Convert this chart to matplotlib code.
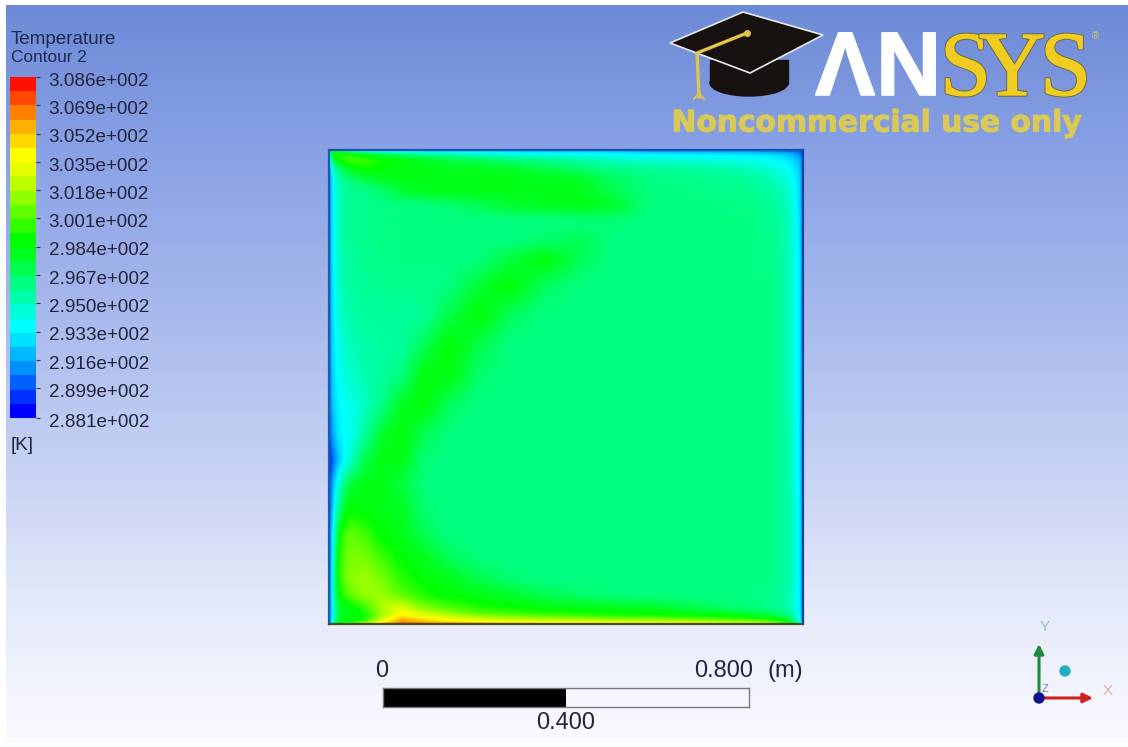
import numpy as np
import matplotlib
matplotlib.use('Agg')
import matplotlib.pyplot as plt
import matplotlib.patheffects as pe
from matplotlib.colors import LinearSegmentedColormap, ListedColormap
from matplotlib.patches import Polygon, Ellipse, Rectangle
from matplotlib.transforms import ScaledTranslation

plt.rcParams['font.family'] = ['Liberation Sans', 'DejaVu Sans']

# legend
tick_values = [308.6, 306.9, 305.2, 303.5, 301.8, 300.1, 298.4, 296.7, 295.0, 293.3, 291.6, 289.9, 288.1]
tick_labels = ['3.086e+002', '3.069e+002', '3.052e+002', '3.035e+002', '3.018e+002', '3.001e+002', '2.984e+002',
               '2.967e+002', '2.950e+002', '2.933e+002', '2.916e+002', '2.899e+002', '2.881e+002']
band_edges = [288.1, 288.95, 289.81, 290.66, 291.52, 292.37, 293.22, 294.08, 294.93, 295.79, 296.64, 297.49,
              298.35, 299.2, 300.06, 300.91, 301.77, 302.62, 303.47, 304.33, 305.18, 306.04, 306.89, 307.75, 308.6]
band_colors = ['#0000FF', '#0030FF', '#0060FF', '#0090FF', '#00B8FF', '#00E0FF', '#00FFFF', '#00FFD8',
               '#00FFA8', '#00FF80', '#00FF50', '#00FF20', '#00FF00', '#30FF00', '#60FF00', '#90FF00',
               '#C0FF00', '#E8FF00', '#FFFF00', '#FFD800', '#FFB000', '#FF8000', '#FF4800', '#FF1000']

# temperature, rows go from the top wall down
x_nodes = [0, .008, .021, .042, .074, .110, .152, .200, .253, .316, .380, .454, .527, .601, .675, .749, .823,
           .886, .928, .960, .977, .992, 1]
y_nodes = [0, .008, .021, .038, .059, .084, .116, .148, .190, .232, .285, .348, .411, .475, .538, .601, .654,
           .707, .759, .812, .865, .907, .939, .966, .983, .994, 1]
temp = [
    [297.0, 297.5, 296.0, 294.0, 293.0, 292.5, 292.5, 292.0, 292.0, 292.0, 292.0, 292.0, 292.0, 292.0, 291.0, 291.0, 291.0, 291.0, 290.5, 290.5, 290.0, 290.0, 289.5],
    [295.0, 298.5, 299.5, 299.5, 298.5, 297.5, 296.8, 296.0, 295.5, 295.0, 294.5, 294.2, 294.0, 293.8, 293.6, 293.4, 293.2, 293.0, 292.8, 292.4, 292.0, 291.0, 290.0],
    [293.0, 297.0, 299.0, 300.0, 300.0, 299.0, 298.5, 298.0, 297.5, 297.0, 296.5, 296.0, 295.6, 295.0, 294.6, 294.5, 294.4, 294.2, 293.8, 293.2, 292.8, 292.0, 290.0],
    [291.5, 295.0, 296.5, 298.0, 299.0, 298.6, 298.4, 298.2, 298.0, 298.0, 297.8, 297.2, 296.6, 296.0, 295.8, 295.6, 295.4, 295.0, 294.6, 294.0, 293.4, 292.3, 290.0],
    [291.0, 294.0, 295.5, 296.4, 297.4, 298.0, 298.2, 298.2, 298.2, 298.2, 298.2, 298.1, 297.8, 296.8, 296.2, 296.0, 295.9, 295.6, 295.2, 294.6, 293.8, 292.6, 290.0],
    [291.0, 293.8, 295.2, 295.8, 296.0, 296.6, 297.6, 298.2, 298.2, 298.2, 298.2, 298.2, 298.2, 297.0, 296.2, 296.2, 296.0, 295.9, 295.5, 295.0, 294.2, 292.8, 290.0],
    [291.0, 293.6, 295.2, 295.8, 296.0, 296.1, 296.2, 296.2, 296.5, 297.0, 297.6, 298.0, 298.2, 297.8, 296.3, 296.2, 296.2, 296.1, 295.8, 295.2, 294.4, 292.8, 290.0],
    [291.0, 293.6, 295.2, 295.8, 296.0, 296.2, 296.2, 296.2, 296.2, 296.2, 296.2, 296.2, 296.3, 296.4, 296.2, 296.2, 296.2, 296.2, 295.9, 295.4, 294.5, 293.0, 290.0],
    [291.0, 293.6, 295.2, 295.8, 296.0, 296.1, 296.2, 296.2, 296.2, 296.2, 296.2, 296.6, 297.0, 296.2, 296.2, 296.2, 296.2, 296.2, 296.0, 295.4, 294.5, 293.0, 290.0],
    [291.0, 293.6, 295.0, 295.6, 295.9, 296.0, 296.2, 296.2, 296.2, 296.3, 297.4, 298.6, 296.9, 296.2, 296.2, 296.2, 296.2, 296.2, 296.0, 295.5, 294.6, 293.2, 290.0],
    [291.0, 293.4, 295.0, 295.5, 295.8, 295.9, 296.0, 296.0, 296.2, 297.6, 298.6, 296.8, 296.2, 296.2, 296.2, 296.2, 296.2, 296.2, 296.2, 295.5, 294.6, 293.2, 290.0],
    [290.8, 293.2, 294.8, 295.3, 295.6, 295.7, 295.6, 295.8, 297.2, 298.6, 296.9, 296.2, 296.2, 296.2, 296.2, 296.2, 296.2, 296.2, 296.2, 295.5, 294.6, 293.2, 290.0],
    [290.8, 293.0, 294.4, 295.0, 295.4, 295.5, 295.6, 297.0, 298.6, 297.2, 296.2, 296.2, 296.2, 296.2, 296.2, 296.2, 296.2, 296.2, 296.2, 295.5, 294.6, 293.2, 290.0],
    [290.6, 292.8, 294.0, 294.7, 295.2, 295.6, 296.3, 298.4, 298.4, 296.5, 296.2, 296.2, 296.2, 296.2, 296.2, 296.2, 296.2, 296.2, 296.2, 295.5, 294.6, 293.2, 290.0],
    [290.4, 292.5, 293.6, 294.0, 294.8, 296.0, 298.0, 298.5, 296.8, 296.2, 296.2, 296.2, 296.2, 296.2, 296.2, 296.2, 296.2, 296.2, 296.2, 295.5, 294.6, 293.2, 290.0],
    [290.0, 291.8, 293.4, 293.8, 295.6, 297.8, 298.5, 297.0, 296.2, 296.2, 296.2, 296.2, 296.2, 296.2, 296.2, 296.2, 296.2, 296.2, 296.2, 295.6, 294.8, 293.2, 290.0],
    [289.0, 290.5, 292.5, 294.5, 297.2, 298.2, 298.2, 296.4, 296.2, 296.2, 296.2, 296.2, 296.2, 296.2, 296.2, 296.2, 296.2, 296.2, 296.2, 295.6, 294.8, 293.2, 290.0],
    [290.0, 292.0, 295.0, 297.6, 298.2, 298.2, 297.4, 296.2, 296.2, 296.2, 296.2, 296.2, 296.2, 296.2, 296.2, 296.2, 296.2, 296.2, 296.2, 295.6, 294.8, 293.2, 290.0],
    [290.0, 293.0, 296.5, 298.8, 298.4, 298.2, 298.0, 296.5, 296.2, 296.2, 296.2, 296.2, 296.2, 296.2, 296.2, 296.2, 296.2, 296.2, 296.2, 295.6, 295.0, 293.4, 290.0],
    [290.5, 294.0, 299.0, 300.6, 300.0, 298.6, 298.2, 297.0, 296.2, 296.2, 296.2, 296.2, 296.2, 296.2, 296.2, 296.2, 296.2, 296.2, 296.2, 295.6, 295.0, 293.4, 290.0],
    [290.5, 294.5, 299.8, 301.0, 301.0, 300.0, 298.6, 298.2, 297.0, 296.3, 296.2, 296.2, 296.2, 296.2, 296.2, 296.2, 296.2, 296.2, 296.2, 295.6, 295.0, 293.4, 290.0],
    [290.5, 295.0, 299.8, 301.2, 301.6, 301.0, 299.5, 298.6, 298.2, 297.2, 296.5, 296.2, 296.2, 296.2, 296.2, 296.2, 296.2, 296.2, 296.2, 295.6, 295.0, 293.4, 290.0],
    [290.5, 295.0, 298.8, 300.5, 301.5, 301.5, 300.4, 299.2, 298.6, 298.2, 297.8, 297.0, 296.6, 296.3, 296.2, 296.2, 296.2, 296.2, 296.0, 295.5, 294.8, 293.4, 290.0],
    [290.5, 294.5, 298.0, 298.2, 299.8, 302.0, 302.8, 301.0, 300.0, 299.2, 298.8, 298.4, 298.2, 298.0, 297.8, 297.2, 296.6, 296.2, 296.0, 295.5, 294.8, 293.4, 290.0],
    [290.5, 294.5, 298.0, 298.2, 298.8, 301.5, 304.2, 303.0, 302.0, 301.0, 300.4, 300.0, 299.6, 299.2, 299.0, 298.8, 298.4, 298.0, 297.4, 296.5, 295.5, 293.6, 290.0],
    [291.0, 294.5, 298.0, 298.4, 299.5, 303.0, 306.0, 305.0, 304.0, 303.4, 303.0, 302.6, 302.4, 302.0, 301.8, 301.5, 301.0, 300.5, 300.0, 298.5, 297.0, 294.0, 290.0],
    [291.0, 295.0, 299.0, 300.0, 302.0, 305.0, 307.0, 306.5, 306.0, 305.5, 305.0, 305.0, 304.5, 304.5, 304.0, 304.0, 303.5, 303.0, 302.0, 300.0, 298.0, 295.0, 291.0],
]

# scale bar
scale_ticks = [0, 0.4, 0.8]
scale_labels = ['0', '0.400', '0.800']

# background
bg_y = [5, 150, 300, 450, 600, 742]
bg_rgb = [[108, 138, 214], [137, 161, 229], [165, 183, 236], [195, 207, 243], [228, 233, 250], [251, 251, 255]]

text_color = '#24243c'


def px_axes(fig, left, top, right, bottom):
    return fig.add_axes([left / 1128, (747 - bottom) / 747, (right - left) / 1128, (bottom - top) / 747])


def soften(field, sigma=2.5):
    """Put the nodes on a fine grid and smooth them, the walls stay sharp"""
    fine = np.linspace(0, 1, 474)
    t = np.array(field)
    t = np.array([np.interp(fine, x_nodes, row) for row in t])
    t = np.array([np.interp(fine, y_nodes, col) for col in t.T]).T
    r = int(3 * sigma)
    kernel = np.exp(-0.5 * (np.arange(-r, r + 1) / sigma) ** 2)
    kernel /= kernel.sum()
    p = np.pad(t, r, mode='edge')
    p = np.apply_along_axis(lambda v: np.convolve(v, kernel, mode='same'), 0, p)
    p = np.apply_along_axis(lambda v: np.convolve(v, kernel, mode='same'), 1, p)
    p = p[r:-r, r:-r]
    d = np.minimum(fine, 1 - fine) * 474
    w = np.clip(np.minimum(d[:, None], d[None, :]) / 14, 0, 1)
    return (1 - w) * t + w * p


fig = plt.figure(figsize=(11.28, 7.47), dpi=100, facecolor='white')

# whole figure in pixels, for gradient, logo and triad
ax = fig.add_axes([0, 0, 1, 1])
rows = np.arange(5, 743)
grad = np.stack([np.interp(rows, bg_y, [c[i] for c in bg_rgb]) for i in range(3)], axis=1) / 255
ax.imshow(grad[:, None, :], extent=[6, 1128, 743, 5], aspect='auto', interpolation='bilinear')
ax.set_xlim(0, 1128)
ax.set_ylim(747, 0)
ax.axis('off')

# contour field
smooth_cmap = LinearSegmentedColormap.from_list('bands', band_colors, N=256)
ax_f = px_axes(fig, 329, 150, 803, 624)
ax_f.imshow(soften(temp), extent=[0, 1, 1, 0], aspect='auto', cmap=smooth_cmap, vmin=288.5, vmax=308.2,
            interpolation='bilinear')
ax_f.set_xticks([])
ax_f.set_yticks([])
ax_f.spines['left'].set_color('#1c5cb0')
ax_f.spines['top'].set_color('#1a4fb0')
ax_f.spines['right'].set_color('#1a3f98')
ax_f.spines['bottom'].set_color('#4a4a20')
for s in ax_f.spines.values():
    s.set_linewidth(1.6)

# legend bar
ax_c = px_axes(fig, 10, 77, 36, 418)
ax_c.pcolormesh([0, 1], band_edges, np.arange(24)[:, None], cmap=ListedColormap(band_colors))
ax_c.set_ylim(288.1, 308.6)
ax_c.set_xticks([])
ax_c.yaxis.tick_right()
ax_c.set_yticks(tick_values)
ax_c.set_yticklabels(tick_labels, fontsize=13.6, color=text_color)
ax_c.tick_params(axis='y', length=3, width=0.8, color='#30304a', pad=6.0)
shift = ScaledTranslation(0, -1.6 / 72, fig.dpi_scale_trans)
for lab in ax_c.get_yticklabels():
    lab.set_transform(lab.get_transform() + shift)
for s in ax_c.spines.values():
    s.set_visible(False)

ax.text(11, 39, 'Temperature', fontsize=13.6, color='#1e2a50', va='center')
ax.text(11, 57, 'Contour 2', fontsize=12.4, color='#1e2a50', va='center')
ax.text(11, 445, '[K]', fontsize=13.5, color=text_color, va='center')

# scale bar
ax_s = px_axes(fig, 383, 688, 749, 707)
ax_s.barh(0, scale_ticks[1], height=1, color='black')
ax_s.barh(0, scale_ticks[2] - scale_ticks[1], left=scale_ticks[1], height=1, color='#f4f5fd')
ax_s.set_xlim(0, 0.8)
ax_s.set_ylim(-0.5, 0.5)
ax_s.set_xticks([])
ax_s.set_yticks([])
for s in ax_s.spines.values():
    s.set_color('#777780')
    s.set_linewidth(1)
ax.text(382, 671, scale_labels[0], fontsize=17, color=text_color, ha='center', va='center')
ax.text(724, 671, scale_labels[2], fontsize=17, color=text_color, ha='center', va='center')
ax.text(785, 671, '(m)', fontsize=17, color=text_color, ha='center', va='center')
ax.text(566, 723, scale_labels[1], fontsize=17, color=text_color, ha='center', va='center')

# triad
ax.annotate('', xy=(1039, 644), xytext=(1039, 698),
            arrowprops=dict(arrowstyle='-|>', color='#1f8a3c', lw=2.2, mutation_scale=14, shrinkA=0, shrinkB=0))
ax.annotate('', xy=(1093, 698), xytext=(1039, 698),
            arrowprops=dict(arrowstyle='-|>', color='#d02020', lw=2.2, mutation_scale=14, shrinkA=0, shrinkB=0))
ax.add_patch(Ellipse((1039, 698), 10, 10, color='#10108a', zorder=5))
ax.add_patch(Ellipse((1065, 671), 10, 10, color='#22b0c0', zorder=5))
ax.text(1045, 627, 'Y', fontsize=11, color='#8fc8a8', ha='center', va='center')
ax.text(1108, 691, 'X', fontsize=11, color='#e0a8a8', ha='center', va='center')
ax.text(1045, 689, 'Z', fontsize=8, color='#7878c0', ha='center', va='center')

# logo
ax.add_patch(Ellipse((749, 83), 78, 26, color='#17120f', zorder=3))
ax.add_patch(Rectangle((710, 60), 78, 24, color='#17120f', zorder=3))
ax.add_patch(Polygon([(670, 43), (743, 12), (823, 35), (750, 73)], closed=True, facecolor='#17120f',
                     edgecolor='#e8e8f0', lw=1.2, zorder=4))
ax.plot([747, 697, 699], [33, 53, 97], color='#e2c64a', lw=2.4, zorder=5)
ax.plot([694, 699, 704], [99, 93, 99], color='#e2c64a', lw=1.4, zorder=5)
ax.plot([747], [33], 'o', color='#e2c64a', ms=4, zorder=5)

white_edge = [pe.withStroke(linewidth=1.2, foreground='white')]
ax.text(815, 95, '\u039b', fontsize=65, fontweight='bold', color='white', ha='left', va='baseline', zorder=5,
        path_effects=white_edge)
ax.text(876, 95, 'N', fontsize=65, fontweight='bold', color='white', ha='left', va='baseline', zorder=5,
        path_effects=white_edge)
outline = [pe.Stroke(linewidth=2.4, foreground='#6a6a50'), pe.Stroke(linewidth=1.0, foreground='#f0cc20'), pe.Normal()]
for letter, xpos in zip('SYS', [940, 979, 1040]):
    ax.text(xpos, 95, letter, fontsize=66, family='Liberation Serif', color='#f0cc20',
            ha='left', va='baseline', path_effects=outline, zorder=5)
ax.text(1092, 36, '\u00ae', fontsize=7, color='#d8c860', ha='left', va='center', zorder=5)
ax.text(877, 123, 'Noncommercial use only', fontsize=21.4, family='DejaVu Sans', fontweight='bold', color='#d9c956',
        ha='center', va='center', zorder=5, path_effects=[pe.withStroke(linewidth=0.8, foreground='#d9c956')])

fig.savefig('out.png', dpi=100, facecolor='white')
